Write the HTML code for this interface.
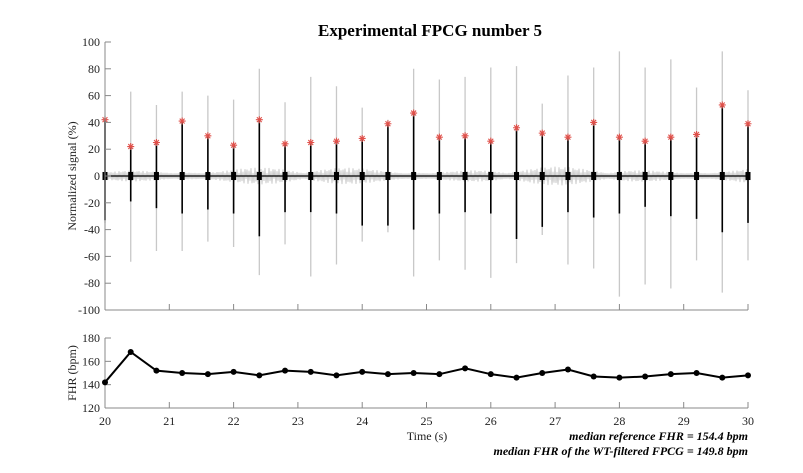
<!DOCTYPE html>
<html><head><meta charset="utf-8">
<style>
body{margin:0;background:#fff;}
svg{display:block;font-family:"Liberation Serif",serif;}
</style></head>
<body>
<svg id="chart" width="803" height="473" viewBox="0 0 803 473">
<text x="430" y="36" text-anchor="middle" font-weight="bold" font-size="17">Experimental FPCG number 5</text>
<g id="top"></g>
<g id="bot"></g>
<text transform="translate(76,176) rotate(-90)" text-anchor="middle" font-size="12" fill="#222">Normalized signal (%)</text>
<text transform="translate(76,373) rotate(-90)" text-anchor="middle" font-size="12" fill="#222">FHR (bpm)</text>
<text x="427" y="440" text-anchor="middle" font-size="12" fill="#222">Time (s)</text>
<text x="748" y="440" text-anchor="end" font-size="12" font-weight="bold" font-style="italic">median reference FHR = 154.4 bpm</text>
<text x="748" y="455" text-anchor="end" font-size="12" font-weight="bold" font-style="italic">median FHR of the WT-filtered FPCG = 149.8 bpm</text>
</svg>
<script>
const beatTimes=[20.0,20.4,20.8,21.2,21.6,22.0,22.4,22.8,23.2,23.6,24.0,24.4,24.8,25.2,25.6,26.0,26.4,26.8,27.2,27.6,28.0,28.4,28.8,29.2,29.6,30.0];
const peakValues=[42,22,25,41,30,23,42,24,25,26,28,39,47,29,30,26,36,32,29,40,29,26,29,31,53,39];
const greyTop=[45,63,53,63,60,57,80,55,74,67,51,42,80,72,74,81,82,54,75,81,93,81,87,66,93,64];
const greyBottom=[-35,-64,-56,-56,-49,-53,-74,-51,-75,-66,-49,-42,-75,-63,-70,-76,-65,-44,-66,-69,-90,-81,-84,-63,-87,-63];
const blackBottom=[-33,-19,-24,-28,-25,-28,-45,-27,-27,-28,-37,-37,-40,-28,-27,-28,-47,-38,-27,-31,-28,-23,-30,-32,-42,-35];
const fhrValues=[142,168,152,150,149,151,148,152,151,148,151,149,150,149,154,149,146,150,153,147,146,147,149,150,146,148];
const xTicks=[20,21,22,23,24,25,26,27,28,29,30];
const yTicksTop=[100,80,60,40,20,0,-20,-40,-60,-80,-100];
const yTicksBot=[180,160,140,120];

const NS="http://www.w3.org/2000/svg";
const X0=105,X1=748;
const xs=t=>X0+(t-20)/10*(X1-X0);
const ysT=v=>176-v*1.34;
const ysB=v=>408-(v-120)/60*70;
function mk(tag,attrs,parent){const e=document.createElementNS(NS,tag);for(const k in attrs)e.setAttribute(k,attrs[k]);parent.appendChild(e);return e;}
const topG=document.getElementById('top'),botG=document.getElementById('bot');

let d="M"+X0+" "+ysT(0);
for(let px=X0;px<=X1;px+=1){
  const a1=Math.abs(Math.sin(px*0.031))*Math.abs(Math.sin(px*0.0123+1));
  const amp=2+5*a1*Math.abs(Math.cos(px*0.9));
  const s=(px%2?1:-1);
  d+=" L"+px+" "+ysT(s*amp);
}
const noise=mk('path',{d:d,stroke:'#cccccc','stroke-width':1,fill:'none'},topG);



beatTimes.forEach((t,i)=>{
  const x=xs(t);
  const g=mk('line',{x1:x,x2:x,y1:ysT(greyTop[i]),y2:ysT(greyBottom[i]),stroke:'#c8c8c8','stroke-width':1.3},topG);
  
  
});
const base=mk('line',{x1:X0,x2:X1,y1:ysT(0),y2:ysT(0),stroke:'#000','stroke-width':1.2},topG);


beatTimes.forEach((t,i)=>{
  const x=xs(t);
  const b=mk('line',{x1:x,x2:x,y1:ysT(peakValues[i]),y2:ysT(blackBottom[i]),stroke:'#000','stroke-width':1.6},topG);
  
  
  const bl=mk('rect',{x:x-2.5,y:ysT(3),width:5,height:ysT(-3)-ysT(3),fill:'#000'},topG);
  
  
});
beatTimes.forEach((t,i)=>{
  const x=xs(t),y=ysT(peakValues[i]),r=3.5;
  const s=mk('path',{d:`M${x-r} ${y}H${x+r}M${x} ${y-r}V${y+r}M${x-r*0.7} ${y-r*0.7}L${x+r*0.7} ${y+r*0.7}M${x-r*0.7} ${y+r*0.7}L${x+r*0.7} ${y-r*0.7}`,stroke:'#e0504a','stroke-width':1.1,fill:'none'},topG);
  
  
});
const ya=mk('line',{x1:X0,x2:X0,y1:ysT(100),y2:ysT(-100),stroke:'#888','stroke-width':1},topG);


const xa=mk('line',{x1:X0,x2:X1,y1:ysT(-100),y2:ysT(-100),stroke:'#888','stroke-width':1},topG);


yTicksTop.forEach(v=>{
  const tk=mk('line',{x1:X0,x2:X0+6,y1:ysT(v),y2:ysT(v),stroke:'#888'},topG);
  
  
  const l=mk('text',{x:X0-5,y:ysT(v)+4,'text-anchor':'end','font-size':12,fill:'#222'},topG);
  l.textContent=v;
  
  
});
xTicks.forEach(v=>{
  const tk=mk('line',{x1:xs(v),x2:xs(v),y1:ysT(-100),y2:ysT(-100)-6,stroke:'#888'},topG);
  
  
});
const ya2=mk('line',{x1:X0,x2:X0,y1:ysB(180),y2:ysB(120),stroke:'#888'},botG);


const xa2=mk('line',{x1:X0,x2:X1,y1:ysB(120),y2:ysB(120),stroke:'#888'},botG);


yTicksBot.forEach(v=>{
  const tk=mk('line',{x1:X0,x2:X0+6,y1:ysB(v),y2:ysB(v),stroke:'#888'},botG);
  
  
  const l=mk('text',{x:X0-5,y:ysB(v)+4,'text-anchor':'end','font-size':12,fill:'#222'},botG);
  l.textContent=v;
  
  
});
xTicks.forEach(v=>{
  const tk=mk('line',{x1:xs(v),x2:xs(v),y1:ysB(120),y2:ysB(120)-6,stroke:'#888'},botG);
  
  
  const l=mk('text',{x:xs(v),y:ysB(120)+17,'text-anchor':'middle','font-size':12,fill:'#222'},botG);
  l.textContent=v;
  
  
});
const pts=beatTimes.map((t,i)=>xs(t)+","+ysB(fhrValues[i])).join(" ");
const pl=mk('polyline',{points:pts,fill:'none',stroke:'#000','stroke-width':2},botG);


beatTimes.forEach((t,i)=>{
  const c=mk('circle',{cx:xs(t),cy:ysB(fhrValues[i]),r:3,fill:'#000'},botG);
  
  
});
</script>
</body></html>
